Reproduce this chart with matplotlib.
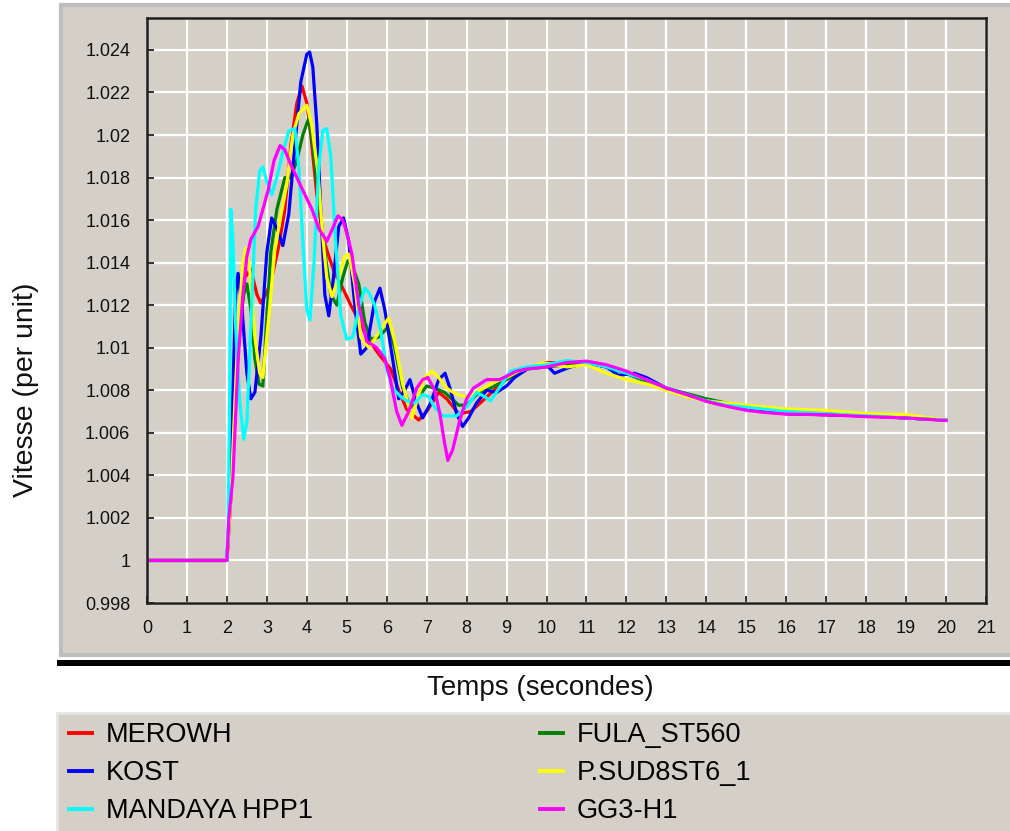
import matplotlib
matplotlib.use("Agg")
import matplotlib.pyplot as plt
import numpy as np
from matplotlib.patches import Rectangle

plt.rcParams["font.family"] = ["Liberation Sans", "DejaVu Sans"]

PANEL = "#d4d0c8"
W, H = 1010, 831

# series (time in s, speed in pu)
merowh_t = [0, 2.0, 2.1, 2.2, 2.3, 2.45, 2.6, 2.75, 2.85, 3.0, 3.15, 3.3, 3.45, 3.6, 3.75,
            3.88, 4.0, 4.1, 4.25, 4.4, 4.55, 4.7, 4.9, 5.1, 5.3, 5.5, 5.8, 6.1, 6.3, 6.5,
            6.8, 7.0, 7.3, 7.5, 7.8, 8.1, 8.4, 8.8, 9.1, 9.5, 10, 10.3, 10.6, 11, 11.5,
            12, 13, 14, 15, 16, 17, 18, 19, 20]
merowh_v = [1.0, 1.0, 1.003, 1.007, 1.0105, 1.0133, 1.0137, 1.0125, 1.0121, 1.0126, 1.0135,
            1.0148, 1.0165, 1.0195, 1.0215, 1.0223, 1.0215, 1.0200, 1.0172, 1.0152, 1.0143,
            1.0135, 1.0128, 1.0120, 1.0113, 1.0105, 1.0097, 1.0090, 1.0080, 1.0071, 1.0066,
            1.0070, 1.0079, 1.0076, 1.0069, 1.0070, 1.0075, 1.0082, 1.0087, 1.0090, 1.0093,
            1.0093, 1.0091, 1.0093, 1.0091, 1.0088, 1.0081, 1.0075, 1.0071, 1.0069, 1.00685,
            1.0068, 1.0067, 1.0066]

fula_t = [0, 2.0, 2.1, 2.2, 2.3, 2.42, 2.5, 2.6, 2.7, 2.8, 2.9, 3.0, 3.1, 3.25, 3.45, 3.6,
          3.75, 3.9, 4.05, 4.15, 4.3, 4.45, 4.6, 4.75, 4.9, 5.03, 5.15, 5.3, 5.45, 5.6, 5.8,
          6.05, 6.2, 6.4, 6.6, 6.8, 7.0, 7.2, 7.45, 7.8, 8.0, 8.25, 8.6, 9.0, 9.5, 10, 10.5,
          11, 11.5, 12, 12.5, 13, 14, 15, 16, 17, 18, 19, 20]
fula_v = [1.0, 1.0, 1.003, 1.0075, 1.0105, 1.0125, 1.0130, 1.0118, 1.0095, 1.0083, 1.0082,
          1.0115, 1.0145, 1.0165, 1.0180, 1.0180, 1.0188, 1.0200, 1.0208, 1.0195, 1.0170,
          1.0145, 1.0125, 1.0120, 1.0133, 1.0141, 1.0138, 1.0130, 1.0112, 1.0104, 1.0105,
          1.0110, 1.0100, 1.0081, 1.0072, 1.0077, 1.0082, 1.0081, 1.0079, 1.0073, 1.0073,
          1.0078, 1.0081, 1.0085, 1.0090, 1.0091, 1.0092, 1.0093, 1.0091, 1.0088, 1.0084,
          1.0081, 1.0076, 1.0072, 1.0070, 1.0069, 1.0068, 1.0067, 1.0066]

kost_t = [0, 2.0, 2.08, 2.15, 2.22, 2.28, 2.38, 2.5, 2.6, 2.7, 2.85, 3.0, 3.12, 3.25, 3.4,
          3.55, 3.7, 3.85, 4.0, 4.07, 4.15, 4.25, 4.35, 4.45, 4.55, 4.65, 4.8, 4.92, 5.05,
          5.2, 5.35, 5.5, 5.7, 5.83, 5.95, 6.13, 6.3, 6.45, 6.58, 6.75, 6.9, 7.1, 7.3, 7.46,
          7.6, 7.75, 7.9, 8.05, 8.25, 8.5, 8.75, 9.0, 9.2, 9.6, 10.0, 10.2, 10.6, 11, 11.5,
          11.8, 12.2, 12.5, 13, 14, 15, 16, 17, 18, 19, 20]
kost_v = [1.0, 1.0, 1.003, 1.008, 1.0125, 1.0135, 1.0118, 1.0088, 1.0076, 1.0079, 1.0105,
          1.0145, 1.0161, 1.0156, 1.0148, 1.0163, 1.0195, 1.0225, 1.0238, 1.0239, 1.0232,
          1.0205, 1.0165, 1.0125, 1.0115, 1.0130, 1.0157, 1.0161, 1.0150, 1.0120, 1.0097,
          1.0100, 1.0122, 1.0128, 1.0118, 1.0097, 1.0076, 1.0080, 1.0085, 1.0074, 1.0067,
          1.0074, 1.0085, 1.0088, 1.0080, 1.0069, 1.0063, 1.0067, 1.0074, 1.0080, 1.0079,
          1.0082, 1.0086, 1.0091, 1.0092, 1.0088, 1.0091, 1.0093, 1.0091, 1.0087, 1.0088,
          1.0086, 1.0081, 1.0075, 1.0071, 1.0069, 1.00685, 1.0068, 1.0067, 1.0066]

psud_t = [0, 2.0, 2.1, 2.2, 2.3, 2.4, 2.48, 2.58, 2.7, 2.82, 2.9, 3.05, 3.2, 3.35, 3.5,
          3.65, 3.8, 4.0, 4.12, 4.28, 4.4, 4.5, 4.63, 4.8, 4.95, 5.05, 5.2, 5.35, 5.55, 5.8,
          6.05, 6.2, 6.4, 6.63, 6.8, 6.95, 7.13, 7.3, 7.5, 7.75, 8.0, 8.33, 8.7, 9.0, 9.3,
          9.5, 9.9, 10.5, 11, 11.5, 12, 12.5, 13, 13.5, 14, 14.5, 15, 16, 17, 18, 19, 20]
psud_v = [1.0, 1.0, 1.003, 1.0075, 1.0115, 1.0140, 1.0147, 1.0135, 1.0105, 1.0088, 1.0086,
          1.0115, 1.0146, 1.0162, 1.0177, 1.0200, 1.0210, 1.0214, 1.0205, 1.0182, 1.0152,
          1.0133, 1.0124, 1.0133, 1.0143, 1.0144, 1.0130, 1.0105, 1.0100, 1.0107, 1.0114,
          1.0103, 1.0083, 1.0067, 1.0078, 1.0086, 1.0089, 1.0086, 1.0081, 1.0078, 1.0077,
          1.0080, 1.0084, 1.0086, 1.0089, 1.0090, 1.0093, 1.0091, 1.0092, 1.0088, 1.0085,
          1.0083, 1.0080, 1.0077, 1.0075, 1.0074, 1.0073, 1.00712, 1.00705, 1.0069, 1.00685,
          1.0066]

mandaya_t = [0, 2.0, 2.03, 2.07, 2.1, 2.15, 2.22, 2.32, 2.42, 2.5, 2.6, 2.72, 2.82, 2.9,
             3.0, 3.12, 3.25, 3.4, 3.55, 3.7, 3.8, 3.9, 4.0, 4.08, 4.18, 4.3, 4.4, 4.5, 4.6,
             4.72, 4.85, 5.0, 5.15, 5.3, 5.45, 5.55, 5.7, 5.85, 6.0, 6.15, 6.35, 6.5, 6.7,
             6.9, 7.05, 7.2, 7.4, 7.75, 8.0, 8.25, 8.45, 8.6, 8.85, 9.1, 9.5, 10, 10.5, 11,
             11.5, 12, 12.5, 13, 13.5, 14, 14.5, 15, 16, 17, 18, 19, 20]
mandaya_v = [1.0, 1.0, 1.0016, 1.008, 1.0165, 1.0150, 1.0110, 1.0075, 1.0057, 1.0065,
             1.0110, 1.0165, 1.0183, 1.0185, 1.0178, 1.0172, 1.0180, 1.0192, 1.0202, 1.0203,
             1.0185, 1.0150, 1.0118, 1.0113, 1.0140, 1.0185, 1.0202, 1.0203, 1.0190, 1.0150,
             1.0115, 1.0104, 1.0105, 1.0118, 1.0128, 1.0126, 1.0120, 1.0108, 1.0090, 1.0081,
             1.0077, 1.0075, 1.0074, 1.0078, 1.0077, 1.0072, 1.0068, 1.0068, 1.0072, 1.0079,
             1.0077, 1.0075, 1.0082, 1.0089, 1.0091, 1.0092, 1.0094, 1.0093, 1.0091, 1.0088,
             1.0085, 1.0081, 1.0078, 1.0075, 1.0073, 1.0072, 1.0070, 1.0069, 1.0068, 1.0067,
             1.0066]

gg3_t = [0, 2.0, 2.05, 2.15, 2.28, 2.4, 2.5, 2.6, 2.78, 2.9, 3.03, 3.18, 3.33, 3.45, 3.6,
         3.75, 3.9, 4.13, 4.3, 4.5, 4.62, 4.78, 4.9, 5.0, 5.13, 5.3, 5.5, 5.75, 5.95, 6.08,
         6.25, 6.38, 6.55, 6.75, 6.9, 7.03, 7.2, 7.33, 7.45, 7.53, 7.65, 7.83, 8.0, 8.17,
         8.5, 8.83, 9.25, 9.5, 10, 10.5, 11, 11.5, 12, 12.5, 13, 13.5, 14, 14.5, 15, 15.5,
         16, 17, 18, 19, 20]
gg3_v = [1.0, 1.0, 1.002, 1.0039, 1.0094, 1.0125, 1.0143, 1.0151, 1.0157, 1.0165, 1.0174,
         1.0188, 1.0195, 1.0193, 1.0186, 1.0180, 1.0174, 1.0165, 1.0156, 1.0150, 1.0155,
         1.0162, 1.0160, 1.0154, 1.0144, 1.0120, 1.0103, 1.0100, 1.0095, 1.0086, 1.0070,
         1.00635, 1.0070, 1.0081, 1.0085, 1.0086, 1.0080, 1.0069, 1.0055, 1.0047, 1.0052,
         1.0066, 1.0076, 1.0081, 1.0085, 1.0085, 1.0089, 1.0090, 1.0091, 1.0093, 1.00937,
         1.0092, 1.0089, 1.0085, 1.0081, 1.0078, 1.00748, 1.00725, 1.00706, 1.00695,
         1.00688, 1.00685, 1.00676, 1.0067, 1.00658]

series = [
    ("MEROWH", merowh_t, merowh_v, "#ff0000"),
    ("FULA_ST560", fula_t, fula_v, "#008000"),
    ("KOST", kost_t, kost_v, "#0000ff"),
    ("P.SUD8ST6_1", psud_t, psud_v, "#ffff00"),
    ("MANDAYA HPP1", mandaya_t, mandaya_v, "#00ffff"),
    ("GG3-H1", gg3_t, gg3_v, "#ff00ff"),
]

x_ticks = list(range(0, 22))
y_ticks = [0.998, 1.0, 1.002, 1.004, 1.006, 1.008, 1.01, 1.012, 1.014, 1.016,
           1.018, 1.02, 1.022, 1.024]

fig = plt.figure(figsize=(W / 100, H / 100), dpi=100, facecolor="white")


def px_rect(x0, y0, x1, y1, **kw):
    # rectangle given in picture pixels (origin top-left)
    return Rectangle((x0 / W, 1 - y1 / H), (x1 - x0) / W, (y1 - y0) / H,
                     transform=fig.transFigure, **kw)


# chart panel, its dark shadow line and the legend panel
fig.patches.append(px_rect(61, 5, 1014, 655, facecolor=PANEL, edgecolor="#bdbdbd",
                           lw=3, zorder=0))
fig.patches.append(px_rect(57, 660, 1012, 666, facecolor="black", edgecolor="none",
                           zorder=0))
fig.patches.append(px_rect(57, 713, 1014, 834, facecolor=PANEL, edgecolor="#e6e6e6",
                           lw=2, zorder=0))

ax = fig.add_axes([147 / W, 1 - 603 / H, 839 / W, 585 / H])
ax.set_zorder(2)
ax.set_facecolor(PANEL)

lines = {}
for name, t, v, c in series:
    (ln,) = ax.plot(t, v, color=c, lw=2.3, label=name)
    lines[name] = ln

ax.set_xlim(0, 21)
ax.set_ylim(0.998, 1.0255)
ax.set_xticks(x_ticks)
ax.set_yticks(y_ticks, [f"{y:g}" for y in y_ticks])
ax.grid(True, color="white", lw=1.6)
ax.set_axisbelow(True)
ax.tick_params(direction="in", length=5, width=1.3, color="#202020",
               labelsize=13, labelcolor="#111111", pad=12)
for s in ax.spines.values():
    s.set_color("#202020")
    s.set_linewidth(1.8)

fig.text(540 / W, 1 - 688 / H, "Temps (secondes)", ha="center", va="center",
         fontsize=20, color="#111111")
fig.text(26 / W, 1 - 390 / H, "Vitesse (per unit)", ha="center", va="center",
         rotation=90, fontsize=20.5, color="#111111")

order = ["MEROWH", "KOST", "MANDAYA HPP1", "FULA_ST560", "P.SUD8ST6_1", "GG3-H1"]
leg = fig.legend([lines[n] for n in order], order, loc="upper left",
                 bbox_to_anchor=(61 / W, 1 - 714 / H),
                 bbox_transform=fig.transFigure, ncol=2,
                 fontsize=19.5, handlelength=0.85, handletextpad=0.5,
                 labelspacing=0.45, borderpad=0.3, borderaxespad=0,
                 columnspacing=8.4, frameon=False)
leg.set_zorder(3)
for ln in leg.get_lines():
    ln.set_linewidth(2.8)

fig.savefig("out.png", dpi=100, facecolor="white")
